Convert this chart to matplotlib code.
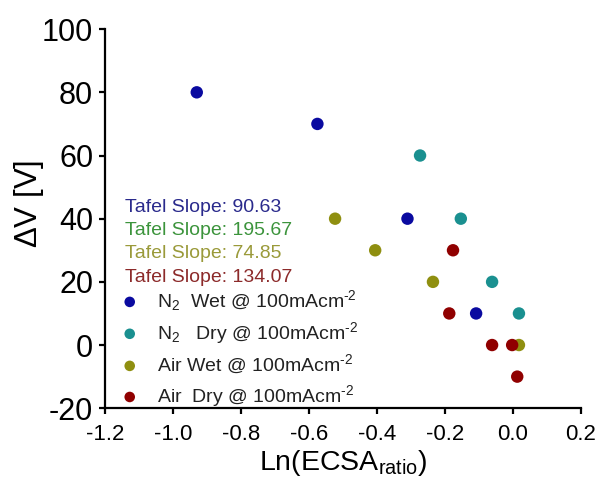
import numpy as np
import matplotlib
matplotlib.use("Agg")
import matplotlib.pyplot as plt

plt.rcParams['font.family'] = ['Liberation Sans', 'DejaVu Sans']
plt.rcParams['mathtext.fontset'] = 'custom'
plt.rcParams['mathtext.rm'] = 'Liberation Sans'
plt.rcParams['mathtext.it'] = 'Liberation Sans:italic'
plt.rcParams['mathtext.bf'] = 'Liberation Sans:bold'
plt.rcParams['axes.unicode_minus'] = False

# Ln(ECSA ratio) vs voltage loss for each gas / humidity condition
n2_wet_x = [-0.93, -0.575, -0.31, -0.108]
n2_wet_y = [80, 70, 40, 10]
n2_dry_x = [-0.273, -0.153, -0.061, 0.018]
n2_dry_y = [60, 40, 20, 10]
air_wet_x = [-0.523, -0.405, -0.235, 0.018]
air_wet_y = [40, 30, 20, 0]
air_dry_x = [-0.176, -0.187, -0.061, -0.002, 0.013]
air_dry_y = [30, 10, 0, 0, -10]

tafel_slopes = [90.63, 195.67, 74.85, 134.07]
tafel_colors = ['#2a2a8c', '#3c943c', '#9a9a3a', '#8c2a2a']

labels = ['N$_2$  Wet @ 100mAcm$^{\u2010 2}$',
          'N$_2$   Dry @ 100mAcm$^{\u2010 2}$',
          'Air Wet @ 100mAcm$^{\u2010 2}$',
          'Air  Dry @ 100mAcm$^{\u2010 2}$']
colors = ['#0a0aa0', '#1a9090', '#8f8f10', '#900000']

x_ticks = [-1.2, -1.0, -0.8, -0.6, -0.4, -0.2, 0.0, 0.2]
y_ticks = [-20, 0, 20, 40, 60, 80, 100]

fig = plt.figure(figsize=(6, 4.78), dpi=100)
ax = fig.add_axes([0.175, 0.146, 0.793, 0.793])

series = [(n2_wet_x, n2_wet_y), (n2_dry_x, n2_dry_y),
          (air_wet_x, air_wet_y), (air_dry_x, air_dry_y)]
handles = []
for (xs, ys), c, lab in zip(series, colors, labels):
    h = ax.scatter(xs, ys, s=80, color=c, edgecolors='none', label=lab, zorder=3)
    handles.append(h)

ax.set_xlim(-1.2, 0.2)
ax.set_ylim(-20, 100)
ax.set_xticks(x_ticks)
ax.set_xticklabels(['%.1f' % v for v in x_ticks])
ax.set_yticks(y_ticks)

for side in ['top', 'right']:
    ax.spines[side].set_visible(False)
for side in ['left', 'bottom']:
    ax.spines[side].set_linewidth(1.6)
ax.tick_params(axis='both', direction='out', length=4.5, width=1.6)
ax.tick_params(axis='y', labelsize=22, pad=4)
ax.tick_params(axis='x', labelsize=16, pad=7)

ax.set_xlabel(r'Ln(ECSA$_{\mathrm{ratio}}$)', fontsize=20.5, labelpad=2)
ax.set_ylabel(r'$\Delta$V [V]', fontsize=22.5)
ax.yaxis.set_label_coords(-0.125, 0.54)

# Tafel slope annotations
for i, (val, c) in enumerate(zip(tafel_slopes, tafel_colors)):
    fig.text(125 / 600, 1 - (207 + i * 23.5) / 478, 'Tafel Slope: %.2f' % val,
             color=c, fontsize=14, va='center', ha='left')

leg = ax.legend(handles=handles, loc='upper left',
                bbox_to_anchor=(120 / 600, 1 - 288 / 478),
                bbox_transform=fig.transFigure, frameon=False,
                fontsize=14, handletextpad=0.9, labelspacing=0.36,
                markerscale=0.85, borderpad=0, borderaxespad=0,
                handlelength=1.0)
for t in leg.get_texts():
    t.set_color('#222222')

fig.savefig('out.png', dpi=100)
